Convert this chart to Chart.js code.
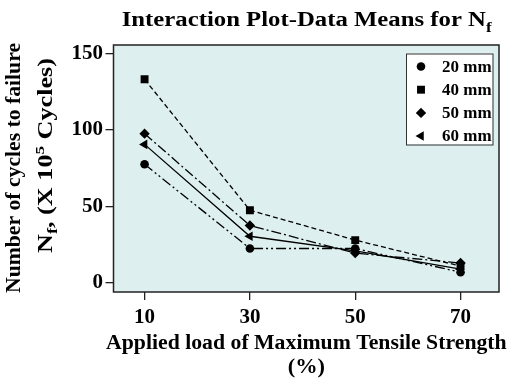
<!DOCTYPE html>
<html><head><meta charset="utf-8">
<script src="https://cdn.jsdelivr.net/npm/chart.js@4"></script>
<style>html,body{margin:0;padding:0;background:#fff;} #wrap{width:515px;height:378px;}</style>
</head><body><div id="wrap"><canvas id="c" width="515" height="378"></canvas></div>
<script>
// ---- data ----
const loads = [10, 30, 50, 70];
const xTickValues = [10, 30, 50, 70];
const yTickValues = [0, 50, 100, 150];
const seriesLabels = ['20 mm', '40 mm', '50 mm', '60 mm'];
const s20 = [77.5, 22.5, 22.5, 7];
const s40 = [133, 47.5, 28, 11];
const s50 = [97.5, 37.5, 19.5, 13];
const s60 = [90.5, 30.5, 21, 9];

const SERIF = '"Liberation Serif", "Times New Roman", serif';
const seriesValues = [s20, s40, s50, s60];
const styles = [
  {pointStyle: 'circle', radius: 4.3, rotation: 0, dash: [10, 3, 2, 3, 2, 3]},
  {pointStyle: 'rect', radius: 5.6, rotation: 0, dash: [5, 3]},
  {pointStyle: 'rectRot', radius: 5.2, rotation: 0, dash: [10, 3, 2, 3]},
  {pointStyle: 'triangle', radius: 5.5, rotation: -90, dash: []}
];

const datasets = seriesLabels.map((lab, i) => ({
  label: lab,
  data: loads.map((x, j) => ({x: x, y: seriesValues[i][j]})),
  borderColor: '#000',
  backgroundColor: '#000',
  borderWidth: 1.3,
  borderDash: styles[i].dash,
  pointStyle: styles[i].pointStyle,
  pointRadius: styles[i].radius,
  pointRotation: styles[i].rotation,
  pointBorderWidth: 0,
  pointBackgroundColor: '#000',
  tension: 0
}));

function richText(ctx, segs, x0, y0, targetW) {
  let total = 0;
  segs.forEach(s => { ctx.font = 'bold ' + s.size + 'px ' + SERIF; s.w = ctx.measureText(s.t).width; total += s.w; });
  const k = targetW / total;
  ctx.save();
  ctx.translate(x0, y0);
  ctx.scale(k, 1);
  ctx.fillStyle = '#000';
  ctx.textBaseline = 'alphabetic';
  ctx.textAlign = 'left';
  let x = 0;
  segs.forEach(s => { ctx.font = 'bold ' + s.size + 'px ' + SERIF; ctx.fillText(s.t, x, s.dy || 0); x += s.w; });
  ctx.restore();
}

const decor = {
  id: 'decor',
  beforeDraw(chart) {
    const {ctx, chartArea: a} = chart;
    ctx.save();
    ctx.fillStyle = '#ddefef';
    ctx.fillRect(a.left, a.top, a.right - a.left, a.bottom - a.top);
    ctx.restore();
  },
  afterDraw(chart) {
    const {ctx, chartArea: a} = chart;
    ctx.save();
    ctx.strokeStyle = '#222';
    ctx.lineWidth = 1.5;
    ctx.strokeRect(a.left, a.top, a.right - a.left, a.bottom - a.top);
    ctx.restore();

    // title
    richText(ctx, [{t: 'Interaction Plot-Data Means for N', size: 20}, {t: 'f', size: 14, dy: 6}], 121.7, 26, 370);
    // y title
    ctx.save();
    ctx.translate(19.5, 293); ctx.rotate(-Math.PI / 2);
    richText(ctx, [{t: 'Number of cycles to failure', size: 20}], 0, 0, 250);
    ctx.restore();
    ctx.save();
    ctx.translate(51.5, 253); ctx.rotate(-Math.PI / 2);
    richText(ctx, [{t: 'N', size: 20}, {t: 'f', size: 14, dy: 5}, {t: ', (X 10', size: 20}, {t: '5', size: 13, dy: -8}, {t: ' Cycles)', size: 20}], 0, 0, 195);
    ctx.restore();
    // x title
    richText(ctx, [{t: 'Applied load of Maximum Tensile Strength', size: 20}], 106, 348.5, 400.7);
    richText(ctx, [{t: '(%)', size: 20}], 287.7, 372.5, 37.3);

    // legend
    const bx = 406, by = 53.5, bw = 86.5, bh = 91;
    ctx.save();
    ctx.fillStyle = '#fff';
    ctx.fillRect(bx, by, bw, bh);
    ctx.strokeStyle = '#333';
    ctx.lineWidth = 1;
    ctx.strokeRect(bx + 0.5, by + 0.5, bw, bh);
    ctx.font = 'bold 17px ' + SERIF;
    ctx.textBaseline = 'middle';
    ctx.textAlign = 'left';
    chart.data.datasets.forEach((ds, i) => {
      const cy = by + 13 + i * 23.2;
      ctx.fillStyle = '#000';
      ctx.strokeStyle = '#000';
      Chart.helpers.drawPoint(ctx, {pointStyle: ds.pointStyle, radius: ds.pointRadius, rotation: ds.pointRotation, borderWidth: 0}, 421, cy);
      ctx.fillStyle = '#000';
      ctx.fillText(ds.label, 442, cy + 1);
    });
    ctx.restore();
  }
};

const tickFont = {family: SERIF, size: 21, weight: 'bold'};

new Chart(document.getElementById('c'), {
  type: 'line',
  data: {datasets: datasets},
  options: {
    responsive: false,
    animation: false,
    devicePixelRatio: 1,
    layout: {padding: {left: 0, top: 45, right: 16, bottom: 0}},
    plugins: {legend: {display: false}, title: {display: false}, tooltip: {enabled: false}},
    scales: {
      x: {
        type: 'linear', min: 4.1, max: 77.3,
        afterBuildTicks: s => { s.ticks = xTickValues.map(v => ({value: v})); },
        afterFit: s => { s.height = 86; },
        ticks: {font: tickFont, color: '#000', padding: 5, autoSkip: false, maxRotation: 0, callback: v => String(v)},
        grid: {drawOnChartArea: false, drawTicks: true, tickLength: 8, color: '#222', lineWidth: 1.3},
        border: {display: false}
      },
      y: {
        type: 'linear', min: -5.9, max: 155.4,
        afterBuildTicks: s => { s.ticks = yTickValues.map(v => ({value: v})); },
        afterFit: s => { s.width = 113.5; },
        ticks: {font: tickFont, color: '#000', padding: 2.5, autoSkip: false, callback: v => String(v)},
        grid: {drawOnChartArea: false, drawTicks: true, tickLength: 8, color: '#222', lineWidth: 1.3},
        border: {display: false}
      }
    }
  },
  plugins: [decor]
});
</script>
</body></html>
